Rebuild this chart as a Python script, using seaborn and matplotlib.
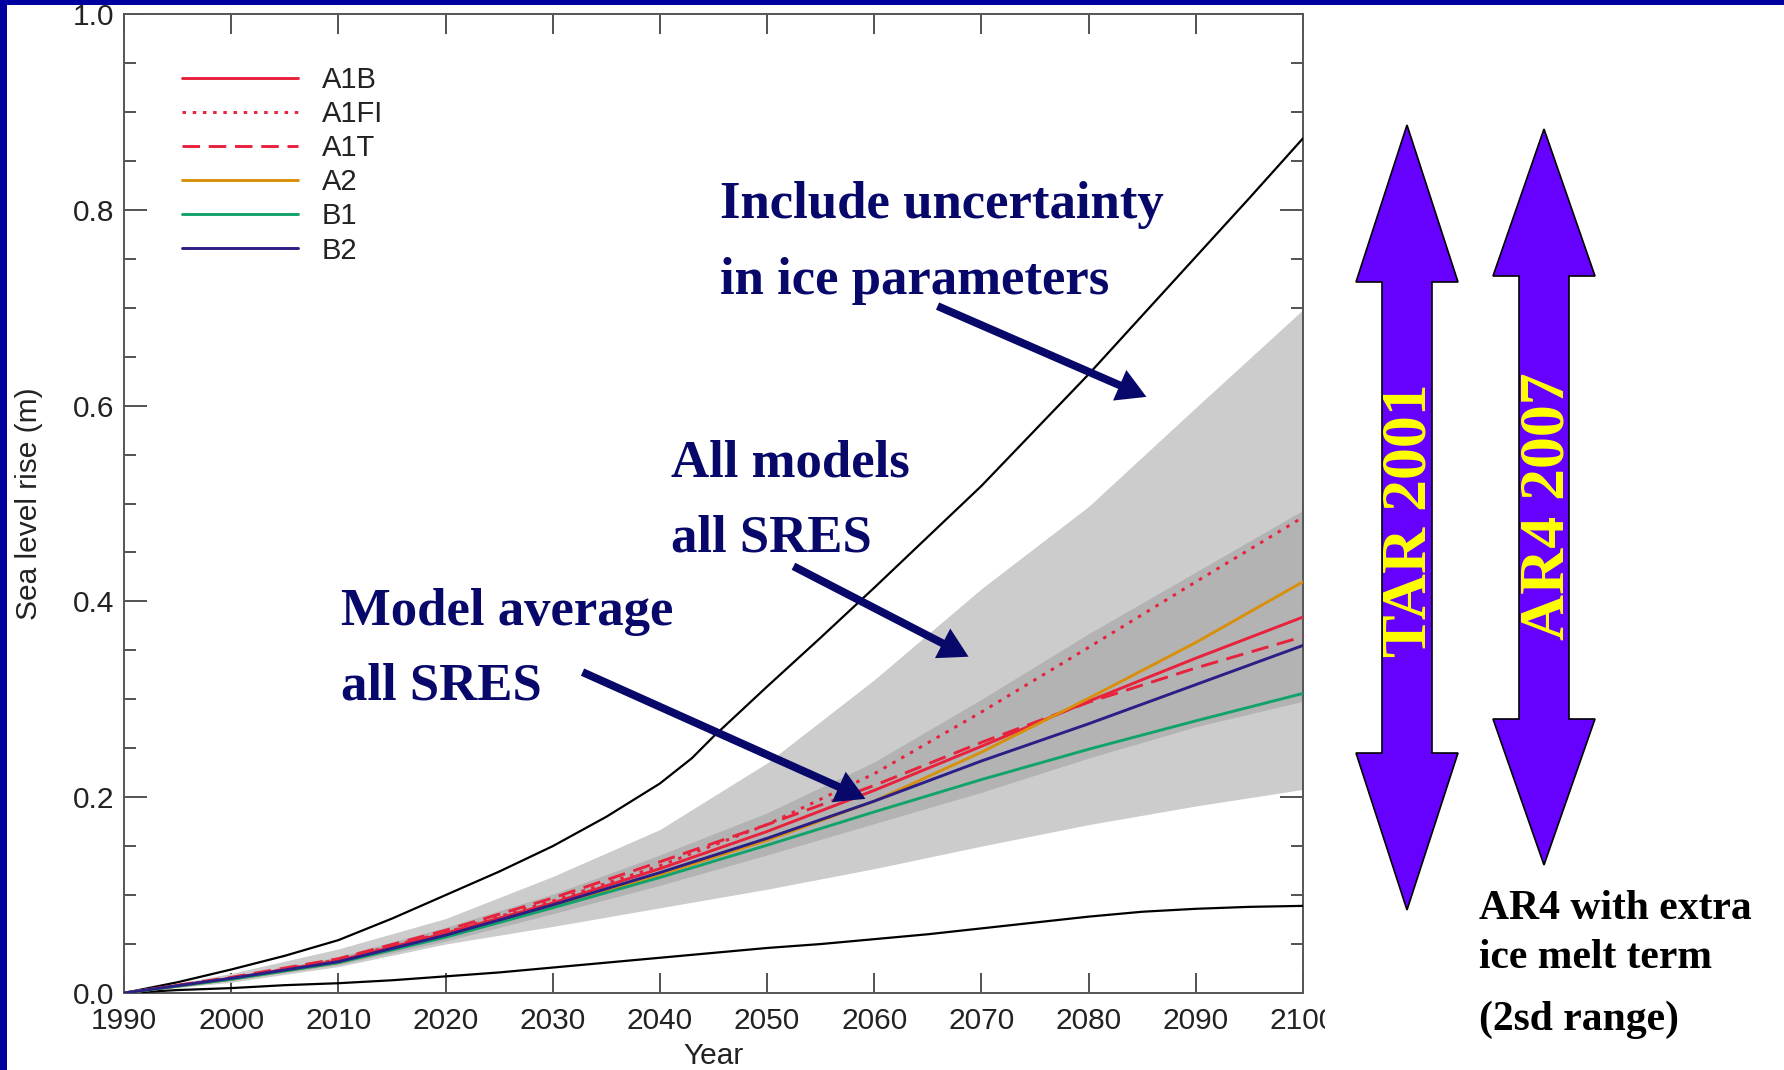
import matplotlib
matplotlib.use("Agg")
import matplotlib.pyplot as plt
import seaborn as sns
import pandas as pd
from matplotlib.patches import Polygon, Rectangle, FancyArrowPatch
from matplotlib.ticker import MultipleLocator

# model projections (m)
years = [1990, 2000, 2010, 2020, 2030, 2040, 2050, 2060, 2070, 2080, 2090, 2100]
a1b = [0, 0.015, 0.033, 0.061, 0.092, 0.127, 0.165, 0.207, 0.252, 0.298, 0.342, 0.384]
a1fi = [0, 0.015, 0.034, 0.062, 0.094, 0.130, 0.172, 0.224, 0.287, 0.353, 0.420, 0.486]
a1t = [0, 0.016, 0.035, 0.064, 0.097, 0.134, 0.172, 0.212, 0.256, 0.297, 0.332, 0.364]
a2 = [0, 0.014, 0.031, 0.058, 0.088, 0.121, 0.156, 0.196, 0.246, 0.301, 0.358, 0.420]
b1 = [0, 0.014, 0.031, 0.057, 0.087, 0.118, 0.151, 0.185, 0.218, 0.249, 0.278, 0.306]
b2 = [0, 0.015, 0.032, 0.059, 0.090, 0.123, 0.158, 0.196, 0.237, 0.275, 0.315, 0.355]
scenarios = ["A1B", "A1FI", "A1T", "A2", "B1", "B2"]

# ranges
sres_low = [0, 0.013, 0.029, 0.053, 0.081, 0.110, 0.141, 0.173, 0.205, 0.240, 0.272, 0.298]
sres_high = [0, 0.016, 0.037, 0.067, 0.101, 0.141, 0.184, 0.236, 0.300, 0.367, 0.430, 0.493]
ice_low = [0, 0.011, 0.027, 0.050, 0.068, 0.087, 0.106, 0.127, 0.150, 0.172, 0.191, 0.208]
ice_high = [0, 0.020, 0.045, 0.076, 0.119, 0.167, 0.235, 0.320, 0.413, 0.497, 0.598, 0.698]

# TAR 2001 envelope (black curves)
tar_years = [1990, 1995, 2000, 2005, 2010, 2015, 2020, 2025, 2030, 2035, 2040, 2043,
             2045, 2050, 2055, 2060, 2065, 2070, 2075, 2080, 2085, 2090, 2095, 2100]
tar_high = [0, 0.011, 0.024, 0.038, 0.054, 0.076, 0.100, 0.124, 0.150, 0.180, 0.214, 0.240,
            0.262, 0.313, 0.363, 0.414, 0.466, 0.518, 0.575, 0.632, 0.692, 0.752, 0.812, 0.873]
tar_low = [0, 0.003, 0.005, 0.008, 0.010, 0.013, 0.017, 0.021, 0.026, 0.031, 0.036, 0.039,
           0.041, 0.046, 0.050, 0.055, 0.060, 0.066, 0.072, 0.078, 0.083, 0.086, 0.088, 0.089]

y_ticks = [0.0, 0.2, 0.4, 0.6, 0.8, 1.0]
x_ticks = list(range(1990, 2101, 10))

palette = {"A1B": "#e8213c", "A1FI": "#e8213c", "A1T": "#e8213c",
           "A2": "#d8900c", "B1": "#12a36a", "B2": "#2b1e86"}
dashes = {"A1B": "", "A1FI": (1.2, 2.3), "A1T": (6, 3), "A2": "", "B1": "", "B2": ""}

sns.set_style("ticks")
plt.rcParams["font.family"] = ["Liberation Sans", "DejaVu Sans"]

W, H = 1784, 1070
fig = plt.figure(figsize=(W / 100, H / 100), dpi=100)
fig.patch.set_facecolor("white")


def fx(x):
    return x / W


def fy(y):
    return 1 - y / H


ax = fig.add_axes([fx(124), fy(993), fx(1303) - fx(124), fy(14) - fy(993)])

ax.fill_between(years, ice_low, ice_high, color="#cccccc", lw=0, zorder=1)
ax.fill_between(years, sres_low, sres_high, color="#b3b3b3", lw=0, zorder=2)
ax.plot(tar_years, tar_high, color="black", lw=1.6, zorder=3)
ax.plot(tar_years, tar_low, color="black", lw=1.6, zorder=3)

df = pd.DataFrame({"A1B": a1b, "A1FI": a1fi, "A1T": a1t, "A2": a2, "B1": b1, "B2": b2},
                  index=years)
df = df.reset_index().rename(columns={"index": "Year"})
df = df.melt(id_vars="Year", var_name="Scenario", value_name="rise")
sns.lineplot(data=df, x="Year", y="rise", hue="Scenario", style="Scenario",
             hue_order=scenarios, style_order=scenarios, palette=palette,
             dashes=dashes, linewidth=2.1, ax=ax, zorder=5)

leg = ax.get_legend()
handles = leg.legend_handles
labels = [t.get_text() for t in leg.get_texts()]
ax.legend(handles, labels, loc="upper left", bbox_to_anchor=(0.049, 0.947),
          frameon=False, fontsize=21, handlelength=4.0, handletextpad=0.8,
          labelspacing=0.21, borderpad=0, borderaxespad=0, labelcolor="#222222")

ax.set_xlim(1990, 2100)
ax.set_ylim(0, 1.0)
ax.set_xticks(x_ticks)
ax.set_yticks(y_ticks)
ax.set_yticklabels([f"{v:.1f}" for v in y_ticks])
ax.yaxis.set_minor_locator(MultipleLocator(0.05))
ax.tick_params(which="both", direction="in", top=True, right=True,
               colors="#444444", labelcolor="#222222", labelsize=21.5, width=1.3)
ax.tick_params(axis="x", which="major", length=14.5, pad=10)
ax.tick_params(axis="y", which="major", length=16.5, pad=7)
ax.tick_params(axis="y", which="minor", length=8.5)
for s in ax.spines.values():
    s.set_color("#555555")
    s.set_linewidth(1.4)
ax.set_xlabel("Year", fontsize=21.5, color="#222222")
ax.set_ylabel("Sea level rise (m)", fontsize=21.5, color="#222222")
ax.xaxis.set_label_coords(0.5, -0.05)
ax.yaxis.set_label_coords(-0.069, 0.5)

# white panel on the right and slide frame
fig.add_artist(Rectangle((fx(1325), 0), 1 - fx(1325), 1, transform=fig.transFigure,
                         facecolor="white", edgecolor="none", zorder=1.5))
fig.add_artist(Rectangle((0, 0), fx(7), 1, transform=fig.transFigure,
                         facecolor="#0000a0", edgecolor="none", zorder=1.6))
fig.add_artist(Rectangle((0, fy(5)), 1, 1 - fy(5), transform=fig.transFigure,
                         facecolor="#0000a0", edgecolor="none", zorder=1.6))

navy = "#08086b"
serif = ["Liberation Serif", "DejaVu Serif"]
notes = [("Include uncertainty", 720, 205), ("in ice parameters", 720, 281),
         ("All models", 671, 463), ("all SRES", 671, 539),
         ("Model average", 341, 612), ("all SRES", 341, 686)]
for txt, x, y in notes:
    fig.text(fx(x), fy(y), txt, ha="left", va="center", fontsize=38,
             fontweight="bold", family=serif, color=navy, zorder=4)

pointers = [((935, 305), (1149, 398)), ((791, 565), (971, 658)), ((580, 671), (868, 800))]
for (x0, y0), (x1, y1) in pointers:
    fig.add_artist(FancyArrowPatch((fx(x0), fy(y0)), (fx(x1), fy(y1)),
                                   transform=fig.transFigure,
                                   arrowstyle="simple,head_length=1.4,head_width=1.6,tail_width=0.38",
                                   mutation_scale=15, color=navy, lw=0, zorder=4))


def double_arrow(cx, top, head_top, head_bot, bot, head_half, shaft_half):
    pts = [(cx, top), (cx + head_half, head_top), (cx + shaft_half, head_top),
           (cx + shaft_half, head_bot), (cx + head_half, head_bot), (cx, bot),
           (cx - head_half, head_bot), (cx - shaft_half, head_bot),
           (cx - shaft_half, head_top), (cx - head_half, head_top)]
    return Polygon([(fx(x), fy(y)) for x, y in pts], closed=True,
                   transform=fig.transFigure, facecolor="#6600ff",
                   edgecolor="black", lw=1.2, zorder=3)


fig.add_artist(double_arrow(1407, 125, 282, 753, 910, 51, 25))
fig.add_artist(double_arrow(1544, 129, 276, 719, 865, 51, 25))
fig.text(fx(1411), fy(520), "TAR 2001", rotation=90, ha="center", va="center",
         fontsize=46, fontweight="bold", family=serif, color="#ffff00", zorder=4)
fig.text(fx(1549), fy(506), "AR4 2007", rotation=90, ha="center", va="center",
         fontsize=46, fontweight="bold", family=serif, color="#ffff00", zorder=4)

for txt, y in [("AR4 with extra", 909), ("ice melt term", 958), ("(2sd range)", 1020)]:
    fig.text(fx(1479), fy(y), txt, ha="left", va="center", fontsize=30,
             fontweight="bold", family=serif, color="black", zorder=4)

fig.savefig("out.png", dpi=100)
